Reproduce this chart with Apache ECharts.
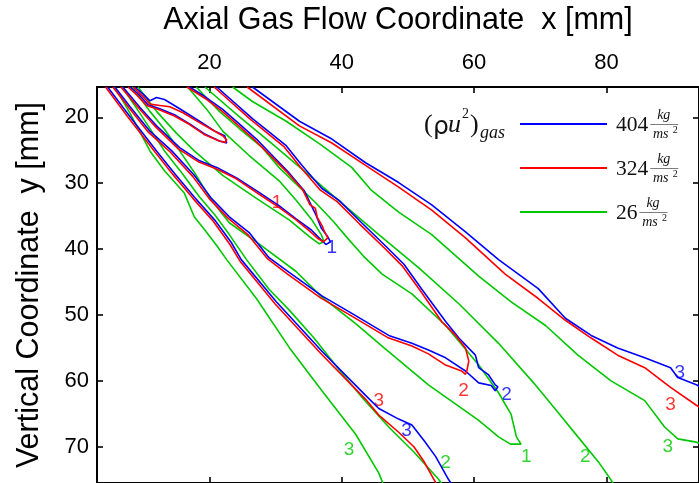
<!DOCTYPE html>
<html>
<head>
<meta charset="utf-8">
<script src="https://cdn.jsdelivr.net/npm/echarts@6/dist/echarts.min.js"></script>
<style>
html,body{margin:0;padding:0;background:#fff;}
#chart{width:699px;height:483px;}
</style>
</head>
<body>
<div id="chart"></div>
<script>
// axis ticks (mm)
const xTicks = [20, 40, 60, 80];
const yTicks = [20, 30, 40, 50, 60, 70];

// gas momentum flux cases (kg/(m s^2))
const fluxLabels = ['404', '324', '26'];
const fluxColors = ['#0000ff', '#ff0000', '#00c800'];

// liquid sheet boundaries, points are [x, y] in mm
// 404 kg/ms^2
const blueC0 = [[8.0,15.4],[9.3,16.5],[10.7,18.1],[12.5,18.7],[14.7,19.6],[17.0,21.0],[19.2,22.5],[21.5,23.6],[22.6,23.9],[22.9,23.6],[22.3,22.8],[20.8,22.1],[18.5,20.6],[15.5,18.7],[13.2,17.3],[12.0,17.0],[11.0,17.5],[9.9,16.4],[8.7,15.4]];
const blueC1 = [[6.9,15.4],[9.5,18.5],[12.0,21.3],[15.5,24.6],[18.5,26.6],[21.1,27.6],[24.1,29.2],[27.5,31.4],[30.5,33.4],[33.1,35.4],[35.4,37.1],[36.8,38.5],[37.6,39.3],[38.3,38.9],[37.8,38.0],[36.9,36.8],[36.1,34.8],[35.5,33.6],[34.3,31.1],[32.0,28.4],[29.5,25.8],[27.1,23.3],[24.5,21.0],[22.0,18.8],[19.5,17.0],[17.0,15.4]];
const blueC2 = [[5.7,15.4],[8.0,18.4],[11.0,22.1],[14.3,25.1],[17.7,28.8],[20.3,32.3],[23.0,35.1],[26.0,37.5],[29.0,41.3],[32.0,43.5],[37.0,47.1],[42.1,50.1],[47.1,53.1],[50.6,54.3],[53.1,55.3],[55.7,56.5],[58.7,58.5],[60.7,60.3],[62.6,60.7],[63.2,61.5],[63.6,60.9],[63.2,60.6],[62.2,59.1],[60.7,58.0],[60.2,56.1],[57.7,53.5],[55.7,51.0],[52.1,46.1],[49.4,42.3],[46.7,39.6],[43.0,36.0],[39.6,32.6],[37.0,30.8],[34.0,27.3],[31.6,24.3],[26.5,20.2],[21.1,15.4]];
const blueC3L = [[4.6,15.4],[8.0,19.9],[12.0,25.1],[14.7,28.5],[17.7,32.1],[20.8,35.6],[23.3,39.0],[24.8,41.6],[30.1,48.0],[37.0,55.5],[43.6,62.2],[45.6,64.2],[48.6,65.8],[50.6,66.7],[52.4,69.0],[54.2,71.5],[56.1,74.9],[56.8,76.0]];
const blueC3R = [[26.5,15.4],[33.6,20.6],[38.5,23.3],[43.6,26.9],[48.6,29.9],[53.6,33.3],[58.7,37.4],[63.7,41.6],[69.7,46.0],[73.8,50.5],[77.7,53.1],[81.7,55.0],[85.8,56.5],[89.7,58.0],[90.8,59.5],[93.6,60.6],[95.0,61.3]];

// 324 kg/ms^2
const redC0 = [[7.7,15.4],[9.0,16.6],[10.5,18.2],[12.5,18.9],[14.7,19.8],[17.0,21.1],[19.2,22.6],[21.5,23.6],[22.4,23.8],[22.6,23.4],[22.0,22.8],[20.6,22.0],[18.5,20.8],[16.0,19.3],[14.0,18.4],[12.5,18.2],[11.0,18.0],[9.8,16.7],[8.5,15.4]];
const redC1 = [[6.6,15.4],[9.3,18.6],[11.9,21.5],[15.3,24.8],[18.4,26.8],[21.0,27.8],[24.0,29.3],[27.4,31.6],[30.4,33.6],[33.0,35.5],[35.2,37.3],[36.4,38.4],[37.2,38.9],[37.9,38.3],[37.4,37.4],[37.1,36.6],[36.3,35.2],[36.0,33.8],[35.2,33.3],[34.1,31.0],[31.8,28.4],[29.3,25.9],[26.9,23.5],[24.3,21.2],[21.8,19.0],[19.3,17.1],[16.6,15.4]];
const redC2 = [[5.4,15.4],[7.8,18.5],[10.8,22.3],[14.1,25.3],[17.5,29.0],[20.1,32.5],[22.8,35.3],[25.8,37.8],[28.8,41.5],[31.8,43.8],[36.8,47.4],[41.9,50.4],[46.9,53.4],[50.6,54.7],[53.1,55.9],[55.7,57.6],[58.1,58.5],[58.7,59.0],[58.9,58.5],[59.2,57.0],[58.7,55.0],[57.2,53.1],[55.1,51.0],[51.8,46.2],[49.1,42.5],[46.4,39.8],[42.7,36.2],[39.3,32.8],[36.7,31.0],[33.7,27.5],[31.3,24.5],[26.2,20.3],[20.7,15.4]];
const redC3L = [[4.3,15.4],[7.7,20.0],[11.8,25.3],[14.5,28.7],[17.5,32.3],[20.6,35.8],[23.1,39.3],[24.6,41.8],[29.9,48.3],[36.8,55.8],[43.6,62.8],[45.6,65.2],[48.6,67.8],[50.9,70.0],[52.4,72.2],[53.9,74.9],[54.5,76.0]];
const redC3R = [[25.7,15.4],[33.6,21.3],[38.5,23.9],[43.6,27.3],[48.6,30.6],[53.6,34.1],[58.7,38.3],[64.7,43.8],[69.7,47.5],[73.8,50.8],[77.7,53.5],[81.7,56.1],[85.8,58.0],[89.7,61.0],[93.6,63.7],[95.0,64.5]];

// 26 kg/ms^2
const greenC0 = [[9.2,15.4],[12.0,19.1],[15.0,22.4],[17.7,25.1],[22.0,28.8],[27.1,32.3],[32.1,35.6],[35.1,38.1],[36.6,39.2],[37.3,38.9],[36.9,37.8],[35.5,35.6],[33.1,32.6],[30.5,29.6],[26.0,25.8],[22.0,22.1],[19.6,18.8],[16.7,15.4]];
const greenC1 = [[8.3,15.4],[11.0,19.1],[13.2,21.8],[15.5,25.1],[18.0,28.8],[20.3,32.6],[23.0,36.0],[28.0,39.6],[33.1,43.4],[37.0,47.3],[42.1,51.3],[46.4,55.0],[53.1,60.6],[60.7,66.0],[63.7,68.5],[65.5,69.6],[67.1,69.6],[66.4,68.5],[65.6,65.1],[63.7,61.8],[60.7,57.6],[55.7,51.6],[50.6,46.8],[46.1,43.8],[43.3,41.1],[41.1,38.6],[38.8,35.9],[36.1,33.0],[33.6,30.6],[30.5,27.6],[28.0,24.6],[24.5,21.7],[21.5,19.1],[18.0,15.4]];
const greenC2L = [[6.8,15.4],[9.5,19.4],[13.2,25.1],[15.8,28.4],[18.5,32.1],[20.8,34.8],[23.0,37.8],[25.6,41.6],[29.0,46.1],[32.1,49.3],[35.8,53.5],[39.6,58.3],[43.3,62.8],[47.1,67.0],[50.9,70.8],[54.6,74.9],[55.4,76.0]];
const greenC2R = [[19.3,15.4],[24.5,19.9],[29.8,24.3],[35.1,28.8],[40.3,33.3],[45.6,37.8],[51.6,42.8],[57.7,48.3],[63.7,54.3],[69.0,60.3],[72.7,64.8],[75.7,68.5],[78.8,72.3],[80.6,74.9],[81.3,76.0]];
const greenC3L = [[5.7,15.4],[8.0,19.4],[11.0,25.1],[13.2,28.1],[16.2,31.5],[17.7,35.1],[19.3,37.1],[21.2,39.6],[22.6,41.6],[27.1,47.5],[32.1,55.0],[37.0,61.5],[42.1,68.1],[45.6,74.0],[46.4,76.0]];
const greenC3R = [[23.5,15.4],[26.5,17.6],[31.6,20.6],[36.6,24.0],[41.5,27.6],[44.5,31.1],[48.6,34.4],[53.6,37.8],[60.7,44.1],[65.6,48.0],[70.8,51.6],[75.7,56.1],[80.7,60.0],[85.8,63.0],[88.8,67.0],[90.8,68.8],[93.6,69.3],[95.0,69.8]];

// contour numbers [x, y, text]
const blueTags = [[38.5,39.8,'1'],[64.9,62.1,'2'],[49.8,67.5,'3'],[91.1,58.8,'3']];
const redTags = [[30.2,32.9,'1'],[58.4,61.5,'2'],[45.6,63.0,'3'],[89.7,63.6,'3']];
const greenTags = [[67.9,71.5,'1'],[55.7,72.5,'2'],[76.8,71.5,'2'],[41.1,70.4,'3'],[89.3,70.0,'3']];

const groups = [
  {color: fluxColors[2], lines: [greenC0, greenC1, greenC2L, greenC2R, greenC3L, greenC3R], tags: greenTags},
  {color: fluxColors[0], lines: [blueC0, blueC1, blueC2, blueC3L, blueC3R], tags: blueTags},
  {color: fluxColors[1], lines: [redC0, redC1, redC2, redC3L, redC3R], tags: redTags}
];

const SANS = '"Liberation Sans", Arial, sans-serif';
const SERIF = '"Liberation Serif", "Times New Roman", serif';

const series = [];
groups.forEach(g => {
  g.lines.forEach(d => series.push({
    type: 'line', data: d, symbol: 'none', showSymbol: false, clip: true,
    silent: true, animation: false,
    lineStyle: {color: g.color, width: 1.6}, itemStyle: {color: g.color}
  }));
});
groups.forEach(g => {
  series.push({
    type: 'scatter', data: g.tags, symbolSize: 1, silent: true, animation: false,
    itemStyle: {color: 'rgba(0,0,0,0)'},
    label: {show: true, position: 'inside', formatter: p => p.data[2],
            color: g.color, fontSize: 19, fontFamily: SANS}
  });
});

// legend drawn as graphics
const measure = document.createElement('canvas').getContext('2d');
function textW(txt, font){ measure.font = font; return measure.measureText(txt).width; }
function txt(t, x, y, font, align){
  return {type: 'text', x: x, y: y, silent: true,
    style: {text: t, font: font, fill: '#111', textAlign: align || 'left', textVerticalAlign: 'middle',
            align: align || 'left', verticalAlign: 'middle'}};
}

const rowY = [124, 168, 212];
const graphics = [];
const numFont = '21.5px ' + SERIF;
const fracFont = 'italic 14px ' + SERIF;
fluxLabels.forEach((lab, i) => {
  const y = rowY[i];
  graphics.push({type: 'line', shape: {x1: 520, y1: y, x2: 607, y2: y},
    style: {stroke: fluxColors[i], lineWidth: 2.2}, silent: true});
  graphics.push(txt(lab, 616, y + 1, numFont));
  const fx = 616 + textW(lab, numFont) + 1;
  const fw = 29;
  graphics.push(txt('kg', fx + fw / 2, y - 9, fracFont, 'center'));
  graphics.push({type: 'line', shape: {x1: fx + 1, y1: y + 0.5, x2: fx + fw, y2: y + 0.5},
    style: {stroke: '#444', lineWidth: 0.7}, silent: true});
  graphics.push(txt('ms', fx + fw / 2 - 3, y + 10, fracFont, 'center'));
  graphics.push(txt('2', fx + fw / 2 + 9, y + 6, '10px ' + SERIF));
});
// (ρu²)gas
const hdrY = 125;
graphics.push(txt('(', 424, hdrY, '26px ' + SERIF));
graphics.push(txt('ρ', 433, hdrY + 2, '25px "DejaVu Sans", sans-serif'));
graphics.push(txt('u', 448, hdrY, 'italic 26px ' + SERIF));
graphics.push(txt('2', 462, hdrY - 11, '14px ' + SERIF));
graphics.push(txt(')', 470, hdrY, '26px ' + SERIF));
graphics.push(txt('gas', 480, hdrY + 8, 'italic 18px ' + SERIF));

const axisCommon = {
  type: 'value', splitLine: {show: false},
  axisLine: {onZero: false, lineStyle: {color: '#000', width: 2}},
  axisTick: {inside: true, length: 6, lineStyle: {color: '#000', width: 1.6}}
};

const option = {
  backgroundColor: '#fff',
  animation: false,
  grid: {left: 97, top: 85, right: -2, bottom: -4, containLabel: false},
  xAxis: [
    Object.assign({}, axisCommon, {
      position: 'top', min: 3, max: 94,
      axisTick: Object.assign({}, axisCommon.axisTick, {customValues: xTicks}),
      axisLabel: {customValues: xTicks, color: '#000', fontSize: 22, fontFamily: SANS, margin: 13},
      name: 'Axial Gas Flow Coordinate  x [mm]', nameLocation: 'middle', nameGap: 51,
      nameTextStyle: {color: '#000', fontSize: 30.5, fontFamily: SANS}
    }),
    Object.assign({}, axisCommon, {
      position: 'bottom', min: 3, max: 94,
      axisTick: Object.assign({}, axisCommon.axisTick, {customValues: xTicks}),
      axisLabel: {show: false}
    })
  ],
  yAxis: [
    Object.assign({}, axisCommon, {
      position: 'left', inverse: true, min: 15.4, max: 75.5,
      axisTick: Object.assign({}, axisCommon.axisTick, {customValues: yTicks}),
      axisLabel: {customValues: yTicks, color: '#000', fontSize: 22, fontFamily: SANS, margin: 8},
      name: 'Vertical Coordinate  y [mm]', nameLocation: 'middle', nameGap: 52,
      nameTextStyle: {color: '#000', fontSize: 30.5, fontFamily: SANS}
    }),
    Object.assign({}, axisCommon, {
      position: 'right', inverse: true, min: 15.4, max: 75.5,
      axisTick: Object.assign({}, axisCommon.axisTick, {customValues: yTicks}),
      axisLabel: {show: false}
    })
  ],
  series: series,
  graphic: graphics
};

const chart = echarts.init(document.getElementById('chart'));
chart.setOption(option);
</script>
</body>
</html>
